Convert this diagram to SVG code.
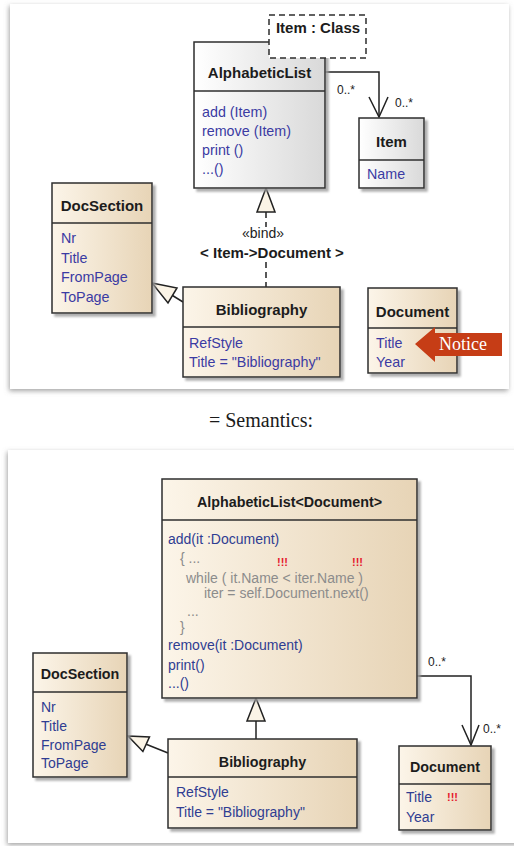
<svg xmlns="http://www.w3.org/2000/svg" width="514" height="846" viewBox="0 0 514 846">
  <defs>
    <linearGradient id="beige" x1="0" y1="0" x2="1" y2="0">
      <stop offset="0" stop-color="#fcf5e9"/>
      <stop offset="1" stop-color="#e7d4b6"/>
    </linearGradient>
    <linearGradient id="grey" x1="0" y1="0" x2="1" y2="0">
      <stop offset="0" stop-color="#ffffff"/>
      <stop offset="1" stop-color="#d9d9d9"/>
    </linearGradient>
    <filter id="panelShadow" x="-5%" y="-5%" width="110%" height="110%">
      <feDropShadow dx="-1" dy="2" stdDeviation="2.5" flood-color="#8c8c8c" flood-opacity="0.8"/>
    </filter>
    <filter id="boxShadow" x="-10%" y="-10%" width="125%" height="125%">
      <feDropShadow dx="3" dy="3" stdDeviation="1" flood-color="#9a9a9a" flood-opacity="0.8"/>
    </filter>
  </defs>
  <style>
    .box { stroke: #2e2e2e; stroke-width: 1.5; }
    .sep { stroke: #2e2e2e; stroke-width: 1.5; }
    .title { font-family: "Liberation Sans", Arial, sans-serif; font-weight: bold; font-size: 15px; fill: #1c1c1c; text-anchor: middle; }
    .title2 { font-family: "Liberation Sans", Arial, sans-serif; font-weight: bold; font-size: 14.3px; fill: #1c1c1c; text-anchor: middle; }
    .attr { font-family: "Liberation Sans", Arial, sans-serif; font-size: 14.3px; fill: #3b3ba3; }
    .attr2 { font-family: "Liberation Sans", Arial, sans-serif; font-size: 14px; fill: #2f3d92; }
    .code { font-family: "Liberation Sans", Arial, sans-serif; font-size: 14px; fill: #8c8c8c; }
    .bang { font-family: "Liberation Sans", Arial, sans-serif; font-weight: bold; font-size: 11px; fill: #e5172c; }
    .mult { font-family: "Liberation Sans", Arial, sans-serif; font-size: 12px; fill: #222; }
    .line { stroke: #222; stroke-width: 1.5; fill: none; }
    .dash { stroke: #222; stroke-width: 1.5; fill: none; stroke-dasharray: 6 4; }
    .tri { stroke: #222; stroke-width: 1.5; fill: #fbf4e6; stroke-linejoin: miter; }
  </style>

  <!-- panels -->
  <rect x="10" y="4" width="499" height="385" fill="#ffffff" filter="url(#panelShadow)"/>
  <text x="261" y="427" font-family="'Liberation Serif', 'Times New Roman', serif" font-size="20" fill="#1a1a1a" text-anchor="middle">= Semantics:</text>
  <rect x="8" y="450" width="520" height="393" fill="#ffffff" filter="url(#panelShadow)"/>

  <!-- ===== generic class ===== -->
  <g id="connectors-top">
    <!-- association AlphabeticList -> Item -->
    <path class="line" d="M325,72 H379 V117"/>
    <path class="line" d="M369,97 L379,117 L388,97"/>
    <text class="mult" x="337" y="94">0..*</text>
    <text class="mult" x="395" y="107">0..*</text>
    <!-- bind realisation -->
    <polygon class="tri" points="266,188 257,212 275,212"/>
    <path class="dash" d="M266,212 V227"/>
    <path class="dash" d="M266,262 V287"/>
    <text x="263" y="238" font-family="'Liberation Sans', Arial, sans-serif" font-size="14" fill="#222" text-anchor="middle">«bind»</text>
    <text x="272" y="258" font-family="'Liberation Sans', Arial, sans-serif" font-size="15" font-weight="bold" fill="#1c1c1c" text-anchor="middle">&lt; Item-&gt;Document &gt;</text>
    <!-- generalisation Bibliography -> DocSection -->
    <path class="line" d="M172.5,295.5 L183,302"/>
    <polygon class="tri" points="152,283 177,288 168,303"/>
  </g>

  <g id="AlphabeticList">
    <rect class="box" x="194" y="42" width="131" height="146" fill="url(#grey)" filter="url(#boxShadow)"/>
    <line class="sep" x1="194" y1="91" x2="325" y2="91"/>
    <text class="title" x="259.5" y="78">AlphabeticList</text>
    <text class="attr" x="202" y="117">add (Item)</text>
    <text class="attr" x="202" y="136">remove (Item)</text>
    <text class="attr" x="202" y="155">print ()</text>
    <text class="attr" x="202" y="174">...()</text>
  </g>

  <g id="ItemParam">
    <rect x="269" y="15" width="97" height="43" fill="#ffffff" stroke="#2e2e2e" stroke-width="1.5" stroke-dasharray="6 4"/>
    <text class="title" x="318" y="33">Item : Class</text>
  </g>

  <g id="Item">
    <rect class="box" x="359" y="118" width="65" height="70" fill="url(#grey)" filter="url(#boxShadow)"/>
    <line class="sep" x1="359" y1="160" x2="424" y2="160"/>
    <text class="title" x="391.5" y="147">Item</text>
    <text class="attr" x="367" y="179">Name</text>
  </g>

  <g id="DocSection">
    <rect class="box" x="52" y="183" width="100" height="130" fill="url(#beige)" filter="url(#boxShadow)"/>
    <line class="sep" x1="52" y1="223" x2="152" y2="223"/>
    <text class="title" x="102" y="211">DocSection</text>
    <text class="attr" x="61" y="243">Nr</text>
    <text class="attr" x="61" y="263">Title</text>
    <text class="attr" x="61" y="282">FromPage</text>
    <text class="attr" x="61" y="302">ToPage</text>
  </g>

  <g id="Bibliography">
    <rect class="box" x="183" y="287" width="157" height="90" fill="url(#beige)" filter="url(#boxShadow)"/>
    <line class="sep" x1="183" y1="327" x2="340" y2="327"/>
    <text class="title" x="261.5" y="315">Bibliography</text>
    <text class="attr" x="189" y="348">RefStyle</text>
    <text class="attr" x="189" y="367">Title = "Bibliography"</text>
  </g>

  <g id="Document">
    <rect class="box" x="368" y="288" width="89" height="85" fill="url(#beige)" filter="url(#boxShadow)"/>
    <line class="sep" x1="368" y1="328" x2="457" y2="328"/>
    <text class="title" x="412.5" y="317">Document</text>
    <text class="attr" x="376" y="348">Title</text>
    <text class="attr" x="376" y="367">Year</text>
  </g>

  <g id="Notice">
    <path d="M415,344 L435,327 L435,333 L502,333 L502,356 L435,356 L435,362 Z" fill="#c63d16"/>
    <text x="463" y="350" font-family="'Liberation Serif', 'Times New Roman', serif" font-size="18" fill="#ffffff" text-anchor="middle">Notice</text>
  </g>

  <!-- ===== bound class ===== -->
  <g id="connectors-bottom">
    <!-- association AlphabeticList<Document> -> Document -->
    <path class="line" d="M417,676 H471 V745"/>
    <path class="line" d="M462,725 L471,745 L479,725"/>
    <text class="mult" x="428" y="666">0..*</text>
    <text class="mult" x="483" y="733">0..*</text>
    <!-- generalisation Bibliography -> AlphabeticList<Document> -->
    <path class="line" d="M256,721 V739"/>
    <polygon class="tri" points="256,698 247,721 265,721"/>
    <!-- generalisation Bibliography -> DocSection -->
    <path class="line" d="M146.2,744.2 L168,753"/>
    <polygon class="tri" points="128,736 149.5,736.9 142.9,751.5"/>
  </g>

  <g id="AlphabeticListDocument">
    <rect class="box" x="162" y="479" width="255" height="219" fill="url(#beige)" filter="url(#boxShadow)"/>
    <line class="sep" x1="162" y1="520" x2="417" y2="520"/>
    <text class="title2" x="289.5" y="507">AlphabeticList&lt;Document&gt;</text>
    <text class="attr2" x="168" y="544">add(it :Document)</text>
    <text class="code" x="180" y="563">{ ...</text>
    <text class="bang" x="277" y="566">!!!</text>
    <text class="bang" x="352" y="566">!!!</text>
    <text class="code" x="186" y="583">while ( it.Name &lt; iter.Name )</text>
    <text class="code" x="204" y="598">iter = self.Document.next()</text>
    <text class="code" x="187" y="616">...</text>
    <text class="code" x="180" y="632">}</text>
    <text class="attr2" x="168" y="650">remove(it :Document)</text>
    <text class="attr2" x="168" y="670">print()</text>
    <text class="attr2" x="168" y="688">...()</text>
  </g>

  <g id="DocSection2">
    <rect class="box" x="33" y="653" width="94" height="124" fill="url(#beige)" filter="url(#boxShadow)"/>
    <line class="sep" x1="33" y1="692" x2="127" y2="692"/>
    <text class="title2" x="80" y="679">DocSection</text>
    <text class="attr2" x="41" y="712">Nr</text>
    <text class="attr2" x="41" y="731">Title</text>
    <text class="attr2" x="41" y="750">FromPage</text>
    <text class="attr2" x="41" y="768">ToPage</text>
  </g>

  <g id="Bibliography2">
    <rect class="box" x="168" y="739" width="189" height="89" fill="url(#beige)" filter="url(#boxShadow)"/>
    <line class="sep" x1="168" y1="777" x2="357" y2="777"/>
    <text class="title2" x="262.5" y="767">Bibliography</text>
    <text class="attr2" x="176" y="797">RefStyle</text>
    <text class="attr2" x="176" y="817">Title = "Bibliography"</text>
  </g>

  <g id="Document2">
    <rect class="box" x="399" y="746" width="92" height="84" fill="url(#beige)" filter="url(#boxShadow)"/>
    <line class="sep" x1="399" y1="784" x2="491" y2="784"/>
    <text class="title2" x="445" y="772">Document</text>
    <text class="attr2" x="406" y="802">Title</text>
    <text class="bang" x="447" y="801">!!!</text>
    <text class="attr2" x="406" y="822">Year</text>
  </g>
</svg>
